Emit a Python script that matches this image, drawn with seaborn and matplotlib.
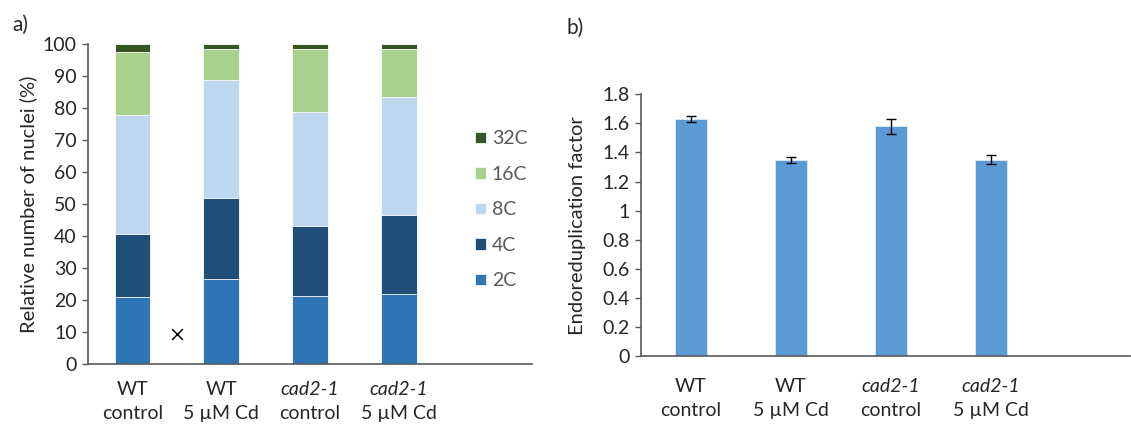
import numpy as np
import pandas as pd
import matplotlib
matplotlib.use("Agg")
import matplotlib.pyplot as plt
from matplotlib import rcParams
from matplotlib.ticker import FuncFormatter
from matplotlib.patches import Patch
import seaborn as sns

# x categories (two-line labels, genotype in italics when mutant)
genotypes = ["WT", "WT", "cad2-1", "cad2-1"]
treatments = ["control", "5 µM Cd", "control", "5 µM Cd"]
groups = [g + " " + t for g, t in zip(genotypes, treatments)]

# panel a) relative number of nuclei (%) per ploidy class
ploidy = ["2C", "4C", "8C", "16C", "32C"]
nuc_2c = [20.8, 26.6, 21.3, 21.8]
nuc_4c = [19.9, 25.2, 21.9, 24.8]
nuc_8c = [37.1, 37.0, 35.5, 36.7]
nuc_16c = [19.6, 9.5, 19.8, 15.2]
nuc_32c = [2.6, 1.7, 1.5, 1.5]

# stray "x" marker that sits between the first two bars
cross_x = [0.5]
cross_y = [9.3]

# panel b) endoreduplication factor
endo_factor = [1.63, 1.35, 1.58, 1.35]
endo_err = [0.02, 0.02, 0.05, 0.03]

ploidy_colors = ["#2E75B6", "#1F4E79", "#BDD7EE", "#A9D18E", "#375623"]
bar_color = "#5B9BD5"
text_color = "#262626"
axis_color = "#595959"
fs = 14

sns.set_style("white")
rcParams.update({'font.size': fs})
rcParams['font.family'] = ['Lato', 'DejaVu Sans']

fig = plt.figure(figsize=(11.31, 4.24), dpi=100)
ax1 = fig.add_axes([88 / 1131, 1 - 364 / 424, 444 / 1131, 320 / 424])
ax2 = fig.add_axes([641 / 1131, 1 - 356 / 424, 489 / 1131, 261.7 / 424])

# ---- panel a: stacked bars, drawn as cumulative tops from the highest down
df = pd.DataFrame({"group": groups, "2C": nuc_2c, "4C": nuc_4c, "8C": nuc_8c,
                   "16C": nuc_16c, "32C": nuc_32c})
cum = df[ploidy].cumsum(axis=1)
for name, col in reversed(list(zip(ploidy, ploidy_colors))):
    sns.barplot(x=df["group"], y=cum[name], color=col, saturation=1, width=0.4,
                edgecolor="white", linewidth=0.6, ax=ax1)

ax1.scatter(cross_x, cross_y, marker="x", color="black", s=60, linewidths=1.1, zorder=5)

ax1.set_xlim(-0.5, 4.5)
ax1.set_ylim(0, 100)
ax1.set_yticks(np.arange(0, 101, 10))
ax1.set_ylabel("Relative number of nuclei (%)", color=text_color, fontsize=fs + 0.5)
ax1.yaxis.set_label_coords(-0.115, 0.5)

handles = [Patch(facecolor=c, edgecolor="white", linewidth=0.5) for c in ploidy_colors]
leg = ax1.legend(handles[::-1], ploidy[::-1], loc="upper left", bbox_to_anchor=(0.872, 0.73),
                 frameon=False, handlelength=0.55, handleheight=0.55, handletextpad=0.3,
                 labelspacing=0.95, borderpad=0, borderaxespad=0, fontsize=fs)
for t in leg.get_texts():
    t.set_color(axis_color)

# ---- panel b: endoreduplication factor with error bars
sns.barplot(x=groups, y=endo_factor, color=bar_color, saturation=1, width=0.32,
            edgecolor="#DDEBF7", linewidth=0.6, ax=ax2)
ax2.errorbar(np.arange(len(groups)), endo_factor, yerr=endo_err, fmt="none",
             ecolor="black", elinewidth=1, capsize=3.5, capthick=1)
ax2.set_xlim(-0.5, 4.39)
ax2.set_ylim(0, 1.8)
ax2.set_yticks(np.arange(0, 1.81, 0.2))
ax2.yaxis.set_major_formatter(FuncFormatter(lambda v, p: "{:g}".format(round(v, 1))))
ax2.set_ylabel("Endoreduplication factor", color=text_color, fontsize=fs + 0.5)
ax2.yaxis.set_label_coords(-0.112, 0.5)

# shared axis styling and two-line category labels
for ax, off in [(ax1, -18.7), (ax2, -22.3)]:
    sns.despine(ax=ax)
    for s in ["left", "bottom"]:
        ax.spines[s].set_color(axis_color)
        ax.spines[s].set_linewidth(1.2)
    ax.set_xlabel("")
    ax.set_xticks([])
    ax.tick_params(axis="y", direction="out", length=4, width=1, color=axis_color,
                   labelcolor=text_color, labelsize=fs, left=True, pad=4)
    tr = ax.get_xaxis_transform()
    for i, (g, t) in enumerate(zip(genotypes, treatments)):
        ax.annotate(g, xy=(i, 0), xycoords=tr, xytext=(0, off), textcoords="offset points",
                    ha="center", va="center", color=text_color, fontsize=fs,
                    style="italic" if g != "WT" else "normal")
        ax.annotate(t, xy=(i, 0), xycoords=tr, xytext=(0, off - 16.6), textcoords="offset points",
                    ha="center", va="center", color=text_color, fontsize=fs)

fig.text(12 / 1131, 1 - 25 / 424, "a)", fontsize=15, color=text_color, va="center")
fig.text(567 / 1131, 1 - 28 / 424, "b)", fontsize=15, color=text_color, va="center")

fig.savefig("out.png", dpi=100)
